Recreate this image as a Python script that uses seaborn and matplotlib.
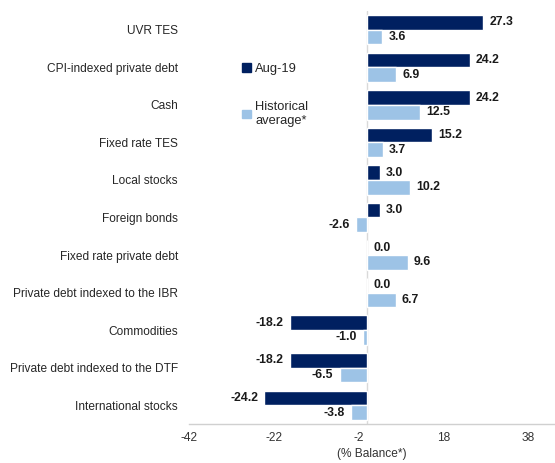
import pandas as pd
import matplotlib
matplotlib.use('Agg')
import matplotlib.pyplot as plt
import seaborn as sns
from matplotlib.patches import Patch

# Daten
categories = ['UVR TES', 'CPI-indexed private debt', 'Cash', 'Fixed rate TES',
              'Local stocks', 'Foreign bonds', 'Fixed rate private debt',
              'Private debt indexed to the IBR', 'Commodities',
              'Private debt indexed to the DTF', 'International stocks']
aug19 = [27.3, 24.2, 24.2, 15.2, 3.0, 3.0, 0.0, 0.0, -18.2, -18.2, -24.2]
hist_avg = [3.6, 6.9, 12.5, 3.7, 10.2, -2.6, 9.6, 6.7, -1.0, -6.5, -3.8]
series_names = ['Aug-19', 'Historical\naverage*']
x_ticks = [-42, -22, -2, 18, 38]

dark = '#002060'
light = '#9DC3E6'

df = pd.DataFrame({
    'category': categories * 2,
    'value': aug19 + hist_avg,
    'series': [series_names[0]] * len(categories) + [series_names[1]] * len(categories),
})

sns.set_style('white')
plt.rcParams['font.family'] = ['Liberation Sans', 'DejaVu Sans']

fig = plt.figure(figsize=(5.55, 4.63), dpi=100)
ax = fig.add_axes([189 / 555, 1 - 424 / 463, 1 - 189 / 555, (424 - 11) / 463])

ax.axvline(0, color='#d9d9d9', lw=1, zorder=0)
sns.barplot(data=df, x='value', y='category', hue='series', orient='h',
            palette=[dark, light], saturation=1, width=0.78, gap=0, ax=ax,
            zorder=2, legend=False)

for cont in ax.containers:
    ax.bar_label(cont, fmt='%.1f', padding=4.5, fontsize=8.8, fontweight='bold',
                 color='#1a1a1a')

ax.set_xlim(-42, 44.3)
ax.set_xticks(x_ticks)
ax.set_xticklabels([str(t) for t in x_ticks], fontsize=8.6, color='#333333')
ax.set_xlabel('(% Balance*)', fontsize=8.6, color='#333333', labelpad=3)
ax.set_ylabel('')
ax.tick_params(axis='y', length=0, pad=8, labelsize=8.6, labelcolor='#262626')
ax.tick_params(axis='x', length=0, pad=6)

for s in ['top', 'right', 'left']:
    ax.spines[s].set_visible(False)
ax.spines['bottom'].set_color('#d0d0d0')
ax.spines['bottom'].set_linewidth(1)

handles = [Patch(color=dark), Patch(color=light)]
fig.legend(handles, series_names, loc='upper left',
           bbox_to_anchor=(237 / 555, 1 - 58 / 463), frameon=False,
           fontsize=9.3, handlelength=0.65, handleheight=0.65, handletextpad=0.35,
           labelspacing=2.0, borderaxespad=0)

fig.savefig('out.png', dpi=100)
